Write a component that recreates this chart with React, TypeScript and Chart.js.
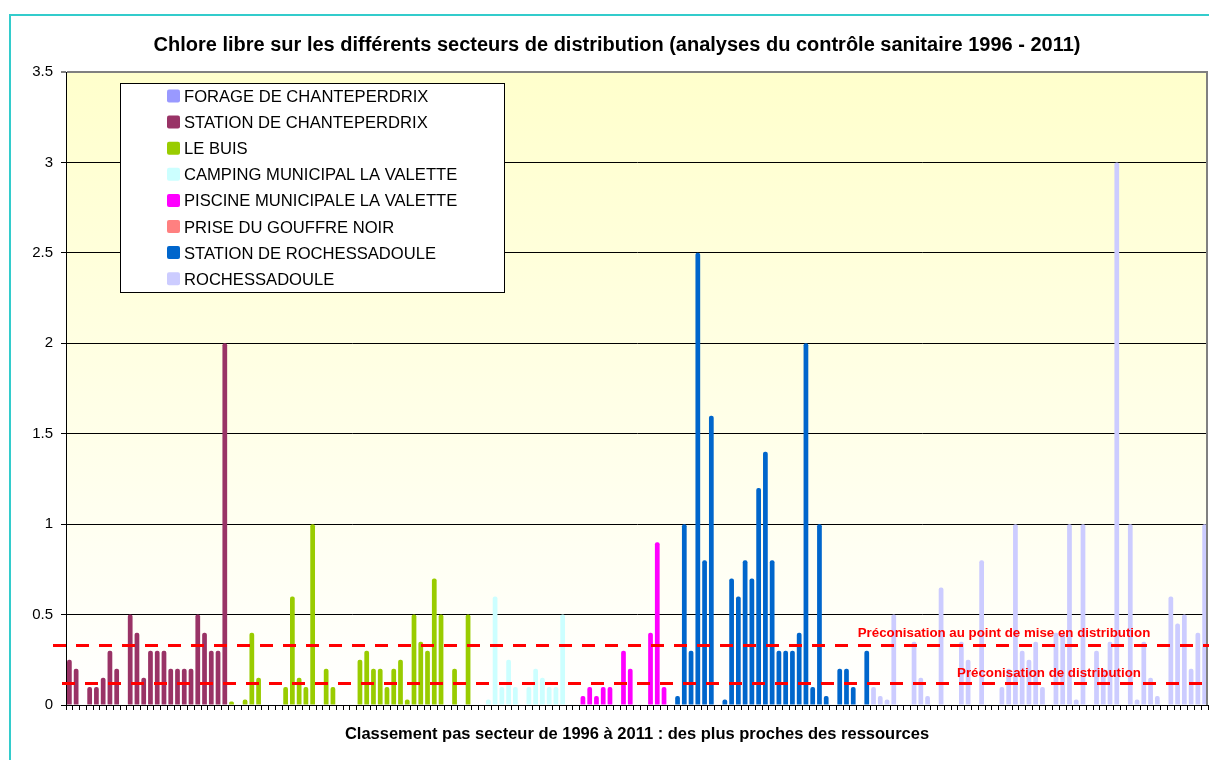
import React, { useEffect, useRef } from "react";
import { Chart, registerables } from "chart.js";

Chart.register(...registerables);

const FONT = '"Liberation Sans", Arial, Helvetica, sans-serif';

const TITLE =
  "Chlore libre sur les différents secteurs de distribution (analyses du contrôle sanitaire 1996 - 2011)";
const X_TITLE = "Classement pas secteur de 1996 à 2011 : des plus proches des ressources";

const CATEGORY_COUNT = 169;
const Y_TICKS = [0, 0.5, 1, 1.5, 2, 2.5, 3, 3.5];

const SERIES_NAMES = [
  "FORAGE DE CHANTEPERDRIX",
  "STATION DE CHANTEPERDRIX",
  "LE BUIS",
  "CAMPING MUNICIPAL LA VALETTE",
  "PISCINE MUNICIPALE LA VALETTE",
  "PRISE DU GOUFFRE NOIR",
  "STATION DE ROCHESSADOULE",
  "ROCHESSADOULE",
];
const SERIES_COLORS = [
  "#9999FF",
  "#993366",
  "#99CC00",
  "#CCFFFF",
  "#FF00FF",
  "#FF8080",
  "#0066CC",
  "#CCCCFF",
];
// first category (rank) of each sector
const SERIES_START = [0, 0, 24, 62, 76, 0, 90, 119];

const FORAGE_CHANTEPERDRIX: number[] = [];
const STATION_CHANTEPERDRIX = [
  0.25, 0.2, 0, 0.1, 0.1, 0.15, 0.3, 0.2, 0, 0.5, 0.4, 0.15, 0.3, 0.3, 0.3, 0.2, 0.2, 0.2, 0.2, 0.5,
  0.4, 0.3, 0.3, 2.0,
];
const LE_BUIS = [
  0.02, 0, 0.03, 0.4, 0.15, 0, 0, 0, 0.1, 0.6, 0.15, 0.1, 1.0, 0, 0.2, 0.1, 0, 0, 0, 0.25, 0.3, 0.2,
  0.2, 0.1, 0.2, 0.25, 0.03, 0.5, 0.35, 0.3, 0.7, 0.5, 0, 0.2, 0, 0.5,
];
const CAMPING_LA_VALETTE = [0.03, 0.6, 0.1, 0.25, 0.1, 0, 0.1, 0.2, 0.15, 0.1, 0.1, 0.5];
const PISCINE_LA_VALETTE = [0.05, 0.1, 0.05, 0.1, 0.1, 0, 0.3, 0.2, 0, 0, 0.4, 0.9, 0.1];
const PRISE_GOUFFRE_NOIR: number[] = [];
const STATION_ROCHESSADOULE = [
  0.05, 1.0, 0.3, 2.5, 0.8, 1.6, 0, 0.03, 0.7, 0.6, 0.8, 0.7, 1.2, 1.4, 0.8, 0.3, 0.3, 0.3, 0.4, 2.0,
  0.1, 1.0, 0.05, 0, 0.2, 0.2, 0.1, 0, 0.3,
];
const ROCHESSADOULE = [
  0.1, 0.05, 0.03, 0.5, 0, 0, 0.35, 0.15, 0.05, 0, 0.65, 0, 0, 0.35, 0.25, 0, 0.8, 0, 0, 0.1, 0.2,
  1.0, 0.3, 0.25, 0.35, 0.1, 0, 0.4, 0.4, 1.0, 0.03, 1.0, 0, 0.3, 0.2, 0.35, 3.0, 0, 1.0, 0.03, 0.35,
  0.15, 0.05, 0, 0.6, 0.45, 0.5, 0.2, 0.4, 1.0,
];

const SERIES_VALUES = [
  FORAGE_CHANTEPERDRIX,
  STATION_CHANTEPERDRIX,
  LE_BUIS,
  CAMPING_LA_VALETTE,
  PISCINE_LA_VALETTE,
  PRISE_GOUFFRE_NOIR,
  STATION_ROCHESSADOULE,
  ROCHESSADOULE,
];

const THRESHOLD_VALUES = [0.33, 0.12];
const THRESHOLD_LABELS = [
  "Préconisation au point de mise en distribution",
  "Préconisation de distribution",
];

const backgroundPlugin = {
  id: "bgPlugin",
  beforeDraw(chart: any) {
    const { ctx, chartArea, width, height } = chart;
    ctx.save();
    ctx.fillStyle = "#FFFFFF";
    ctx.fillRect(0, 0, width, height);
    const g = ctx.createLinearGradient(0, chartArea.top, 0, chartArea.bottom);
    g.addColorStop(0, "#FFFFCC");
    g.addColorStop(1, "#FFFFFF");
    ctx.fillStyle = g;
    ctx.fillRect(chartArea.left, chartArea.top, chartArea.right - chartArea.left, chartArea.bottom - chartArea.top);
    // outer frame
    ctx.strokeStyle = "#33CCCC";
    ctx.lineWidth = 2;
    ctx.strokeRect(10, 15, width + 50, height + 50);
    // chart title (centred on the full Excel chart frame, which extends past the crop)
    ctx.fillStyle = "#000000";
    ctx.font = `bold 20px ${FONT}`;
    ctx.textAlign = "center";
    ctx.textBaseline = "middle";
    ctx.fillText(TITLE, 617, 45);
    ctx.restore();
  },
};

const overlayPlugin = {
  id: "overlayPlugin",
  afterDatasetsDraw(chart: any) {
    const { ctx, chartArea } = chart;
    const yScale = chart.scales.y;
    ctx.save();
    // plot area right border
    ctx.strokeStyle = "#808080";
    ctx.lineWidth = 2;
    ctx.beginPath();
    ctx.moveTo(chartArea.right - 1, chartArea.top);
    ctx.lineTo(chartArea.right - 1, chartArea.bottom);
    ctx.stroke();

    // threshold dashed lines
    const starts = [chartArea.left - 13, chartArea.left - 4];
    const labelX = [1004, 1049];
    const labelDy = [12, 10];
    THRESHOLD_VALUES.forEach((v, i) => {
      const y = Math.round(yScale.getPixelForValue(v)) + 0.5;
      ctx.strokeStyle = "#FF0000";
      ctx.lineWidth = 3;
      ctx.setLineDash([13, 10]);
      ctx.beginPath();
      ctx.moveTo(starts[i], y);
      ctx.lineTo(chartArea.right + 10, y);
      ctx.stroke();
      ctx.setLineDash([]);
      ctx.fillStyle = "#FF0000";
      ctx.font = `bold 13.3px ${FONT}`;
      ctx.textAlign = "center";
      ctx.textBaseline = "middle";
      ctx.fillText(THRESHOLD_LABELS[i], labelX[i], y - labelDy[i]);
    });

    // legend box
    const bx = 120, by = 83, bw = 384, bh = 209;
    ctx.fillStyle = "#FFFFFF";
    ctx.fillRect(bx, by, bw, bh);
    ctx.strokeStyle = "#000000";
    ctx.lineWidth = 1;
    ctx.strokeRect(bx + 0.5, by + 0.5, bw, bh);
    chart.data.datasets.forEach((ds: any, i: number) => {
      const cy = 96.5 + i * 26.1;
      ctx.fillStyle = ds.backgroundColor;
      ctx.beginPath();
      (ctx as any).roundRect(167, cy - 7, 13, 13, 2);
      ctx.fill();
      ctx.fillStyle = "#000000";
      ctx.font = `16.6px ${FONT}`;
      ctx.textAlign = "left";
      ctx.textBaseline = "middle";
      ctx.fillText(ds.label, 184, cy + 1);
    });
    ctx.restore();
  },
};

export default function App() {
  const canvasRef = useRef<HTMLCanvasElement | null>(null);

  useEffect(() => {
    const canvas = canvasRef.current;
    if (!canvas) return;
    const labels = Array.from({ length: CATEGORY_COUNT }, (_, i) => String(i + 1));
    const datasets = SERIES_NAMES.map((name, s) => {
      const data: (number | null)[] = new Array(CATEGORY_COUNT).fill(null);
      SERIES_VALUES[s].forEach((v, j) => {
        data[SERIES_START[s] + j] = v;
      });
      return {
        label: name,
        data,
        backgroundColor: SERIES_COLORS[s],
        borderWidth: 0,
        borderRadius: { topLeft: 2, topRight: 2, bottomLeft: 0, bottomRight: 0 },
        categoryPercentage: 1,
        barPercentage: 0.7,
      };
    });

    const chart = new Chart(canvas, {
      type: "bar",
      data: { labels, datasets },
      options: {
        responsive: false,
        animation: false,
        layout: { padding: { left: 0, right: 52, top: 72, bottom: 0 } },
        plugins: {
          legend: { display: false },
          tooltip: { enabled: false },
          title: { display: false },
        },
        scales: {
          x: {
            stacked: true,
            offset: true,
            grid: {
              display: true,
              drawOnChartArea: false,
              drawTicks: true,
              tickLength: 5,
              color: "#000000",
              offset: true,
            },
            border: { display: true, color: "#000000", width: 1 },
            ticks: { display: false },
            title: {
              display: true,
              text: X_TITLE,
              color: "#000000",
              font: { family: FONT, size: 16.5, weight: "bold" },
              padding: { top: 0, bottom: 16 },
            },
            afterFit: (scale: any) => {
              scale.height = 55;
            },
          },
          y: {
            stacked: true,
            min: 0,
            max: 3.5,
            afterBuildTicks: (scale: any) => {
              scale.ticks = Y_TICKS.map((v) => ({ value: v }));
            },
            ticks: {
              color: "#000000",
              font: { family: FONT, size: 15 },
              padding: 8,
              callback: (v: any) => String(v),
            },
            grid: {
              color: (c: any) => (c.tick && c.tick.value === 3.5 ? "#808080" : "#000000"),
              lineWidth: (c: any) => (c.tick && c.tick.value === 3.5 ? 2 : 1),
              tickLength: 5,
              drawTicks: true,
            },
            border: { display: true, color: "#000000", width: 1 },
            afterFit: (scale: any) => {
              scale.width = 66;
            },
          },
        },
      },
      plugins: [backgroundPlugin, overlayPlugin],
    } as any);

    return () => {
      chart.destroy();
    };
  }, []);

  return (
    <div
      style={{
        position: "fixed",
        left: 0,
        top: 0,
        width: 1209,
        height: 760,
        overflow: "hidden",
        background: "#FFFFFF",
      }}
    >
      <canvas ref={canvasRef} width={1260} height={760} style={{ display: "block" }} />
    </div>
  );
}
